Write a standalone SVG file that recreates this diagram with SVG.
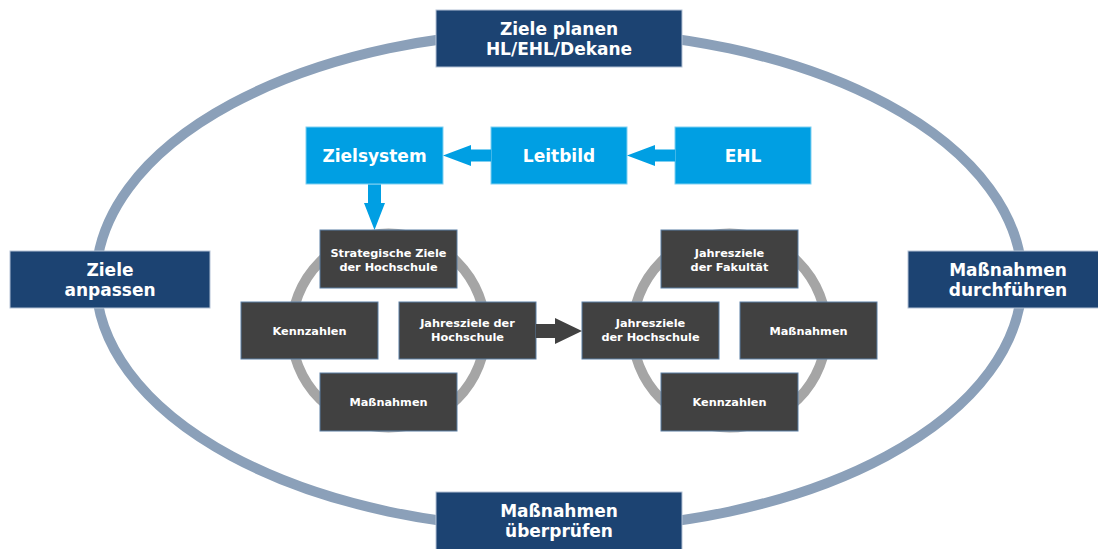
<svg xmlns="http://www.w3.org/2000/svg" width="1098" height="549" viewBox="0 0 1098 549">
  <style>
    .navy { fill: #1c4372; stroke: #b3c2d5; stroke-width: 1; }
    .cyan { fill: #009fe3; stroke: #7fd0f1; stroke-width: 1; }
    .dark { fill: #414141; stroke: #5a7ea3; stroke-width: 1; }
    .ring { fill: none; stroke: #a5a5a5; stroke-width: 10; }
    .big { font-family: "DejaVu Sans", Verdana, sans-serif; font-weight: bold; font-size: 17px; fill: #ffffff; text-anchor: middle; }
    .small { font-family: "DejaVu Sans", Verdana, sans-serif; font-weight: bold; font-size: 11.3px; fill: #ffffff; text-anchor: middle; }
    .cyanArrow { fill: #009fe3; }
    .darkArrow { fill: #414141; }
  </style>
  <rect width="1098" height="549" fill="#ffffff"/>
  <ellipse cx="559" cy="280" rx="463" ry="249" fill="none" stroke="#8ba0b9" stroke-width="10"/>
  <circle class="ring" cx="388.5" cy="330.5" r="97"/>
  <circle class="ring" cx="729.5" cy="330.5" r="97"/>

  <g id="ziele-planen">
    <rect class="navy" x="436" y="10" width="246" height="57"/>
    <text class="big" x="559" y="35">Ziele planen</text>
    <text class="big" x="559" y="55">HL/EHL/Dekane</text>
  </g>
  <g id="ziele-anpassen">
    <rect class="navy" x="10" y="251" width="200" height="57"/>
    <text class="big" x="110" y="276">Ziele</text>
    <text class="big" x="110" y="296">anpassen</text>
  </g>
  <g id="massnahmen-durchfuehren">
    <rect class="navy" x="908" y="251" width="200" height="57"/>
    <text class="big" x="1008" y="276">Maßnahmen</text>
    <text class="big" x="1008" y="296">durchführen</text>
  </g>
  <g id="massnahmen-ueberpruefen">
    <rect class="navy" x="436" y="492" width="246" height="60"/>
    <text class="big" x="559" y="517">Maßnahmen</text>
    <text class="big" x="559" y="537">überprüfen</text>
  </g>

  <g id="zielsystem">
    <rect class="cyan" x="306" y="127" width="137" height="57"/>
    <text class="big" x="374.5" y="162">Zielsystem</text>
  </g>
  <g id="leitbild">
    <rect class="cyan" x="491" y="127" width="136" height="57"/>
    <text class="big" x="559" y="162">Leitbild</text>
  </g>
  <g id="ehl">
    <rect class="cyan" x="675" y="127" width="136" height="57"/>
    <text class="big" x="743" y="162">EHL</text>
  </g>

  <g id="strategische-ziele">
    <rect class="dark" x="320" y="230" width="137" height="58"/>
    <text class="small" x="388.5" y="256.5">Strategische Ziele</text>
    <text class="small" x="388.5" y="270.5">der Hochschule</text>
  </g>
  <g id="kennzahlen-links">
    <rect class="dark" x="241" y="302" width="137" height="57"/>
    <text class="small" x="309.5" y="334.5">Kennzahlen</text>
  </g>
  <g id="jahresziele-hochschule-links">
    <rect class="dark" x="399" y="302" width="137" height="57"/>
    <text class="small" x="467.5" y="327">Jahresziele der</text>
    <text class="small" x="467.5" y="341">Hochschule</text>
  </g>
  <g id="massnahmen-links">
    <rect class="dark" x="320" y="373" width="137" height="58"/>
    <text class="small" x="388.5" y="406">Maßnahmen</text>
  </g>

  <g id="jahresziele-fakultaet">
    <rect class="dark" x="661" y="230" width="137" height="58"/>
    <text class="small" x="729.5" y="256.5">Jahresziele</text>
    <text class="small" x="729.5" y="270.5">der Fakultät</text>
  </g>
  <g id="jahresziele-hochschule-rechts">
    <rect class="dark" x="582" y="302" width="137" height="57"/>
    <text class="small" x="650.5" y="327">Jahresziele</text>
    <text class="small" x="650.5" y="341">der Hochschule</text>
  </g>
  <g id="massnahmen-rechts">
    <rect class="dark" x="740" y="302" width="137" height="57"/>
    <text class="small" x="808.5" y="334.5">Maßnahmen</text>
  </g>
  <g id="kennzahlen-rechts">
    <rect class="dark" x="661" y="373" width="137" height="58"/>
    <text class="small" x="729.5" y="406">Kennzahlen</text>
  </g>

  <g id="connectors">
    <polygon class="cyanArrow" points="491,149.5 471,149.5 471,145 443,155.5 471,166 471,161.5 491,161.5"/>
    <polygon class="cyanArrow" points="675,149.5 655,149.5 655,145 627,155.5 655,166 655,161.5 675,161.5"/>
    <polygon class="cyanArrow" points="368,184.5 368,203 364,203 374.5,230 385,203 381,203 381,184.5"/>
    <polygon class="darkArrow" points="536,324 555,324 555,318 582,331 555,344 555,338 536,338"/>
  </g>
</svg>
